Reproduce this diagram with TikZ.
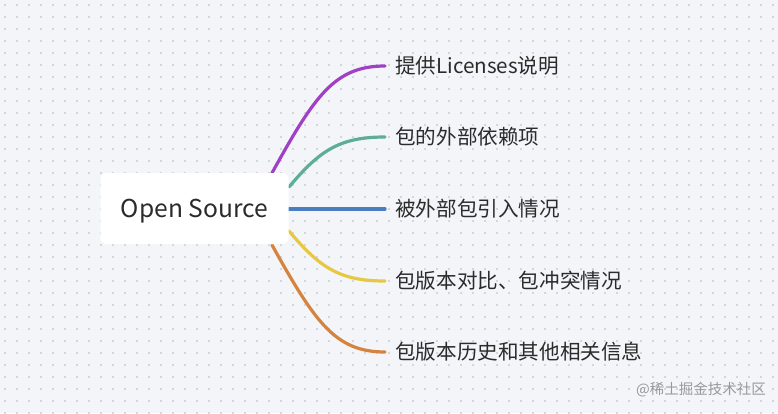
\documentclass[tikz,border=0pt]{standalone}
\usepackage{fontspec}
\setmainfont{Noto Sans CJK SC}
\newfontfamily\cjk{Noto Sans CJK SC}
\definecolor{bgc}{HTML}{F3F5F8}
\definecolor{dotc}{HTML}{D2D7DE}
\definecolor{txt}{HTML}{2B2B2B}
\definecolor{cpur}{HTML}{A040C4}
\definecolor{cgrn}{HTML}{5DAE96}
\definecolor{cblu}{HTML}{4A7CC0}
\definecolor{cyel}{HTML}{E6C843}
\definecolor{corg}{HTML}{D5833E}
\begin{document}
\begin{tikzpicture}[x=1pt,y=-1pt,
  branch/.style={line width=3.2pt,line cap=round},
  leaf/.style={anchor=west,inner sep=0pt,text=txt,font=\cjk\fontsize{20.6}{22}\selectfont},
  rootbox/.style={fill=white,rounded corners=6pt,minimum width=188pt,minimum height=71pt,inner sep=0pt,text height=18pt,text depth=0pt,text=txt,font=\cjk\fontsize{24.6}{28}\selectfont}]
\fill[bgc] (0,0) rectangle (778,413);
\useasboundingbox (0,0) rectangle (778,413);
\foreach \i in {0,...,64}{\foreach \j in {0,...,34}{
  \fill[dotc] (5+12*\i-0.7,5+12*\j-0.7) rectangle (5+12*\i+0.7,5+12*\j+0.7);}}
\coordinate (s1) at (272,173);
\coordinate (s2) at (289,187);
\coordinate (s3) at (289,209);
\coordinate (s4) at (289,231);
\coordinate (s5) at (272,245);
\node[leaf] (l1) at (395,66) {提供Licenses说明};
\node[leaf] (l2) at (395,137) {包的外部依赖项};
\node[leaf] (l3) at (395,209) {被外部包引入情况};
\node[leaf] (l4) at (395,281) {包版本对比、包冲突情况};
\node[leaf] (l5) at (395,352) {包版本历史和其他相关信息};
\draw[branch,cpur] (s1) .. controls (315,95) and (335,66) .. ([xshift=-10pt]l1.west);
\draw[branch,cgrn] (s2) .. controls (320,150) and (340,137) .. ([xshift=-10pt]l2.west);
\draw[branch,cblu] (s3) -- ([xshift=-10pt]l3.west);
\draw[branch,cyel] (s4) .. controls (320,268) and (340,281) .. ([xshift=-10pt]l4.west);
\draw[branch,corg] (s5) .. controls (315,322) and (335,352) .. ([xshift=-10pt]l5.west);
\node[rootbox] (root) at (194.5,208.5) {Open Source};
\node[anchor=east,inner sep=0pt,text=black!40,font=\cjk\fontsize{14.5}{16}\selectfont] (wm) at (766,390) {@稀土掘金技术社区};
\end{tikzpicture}
\end{document}
